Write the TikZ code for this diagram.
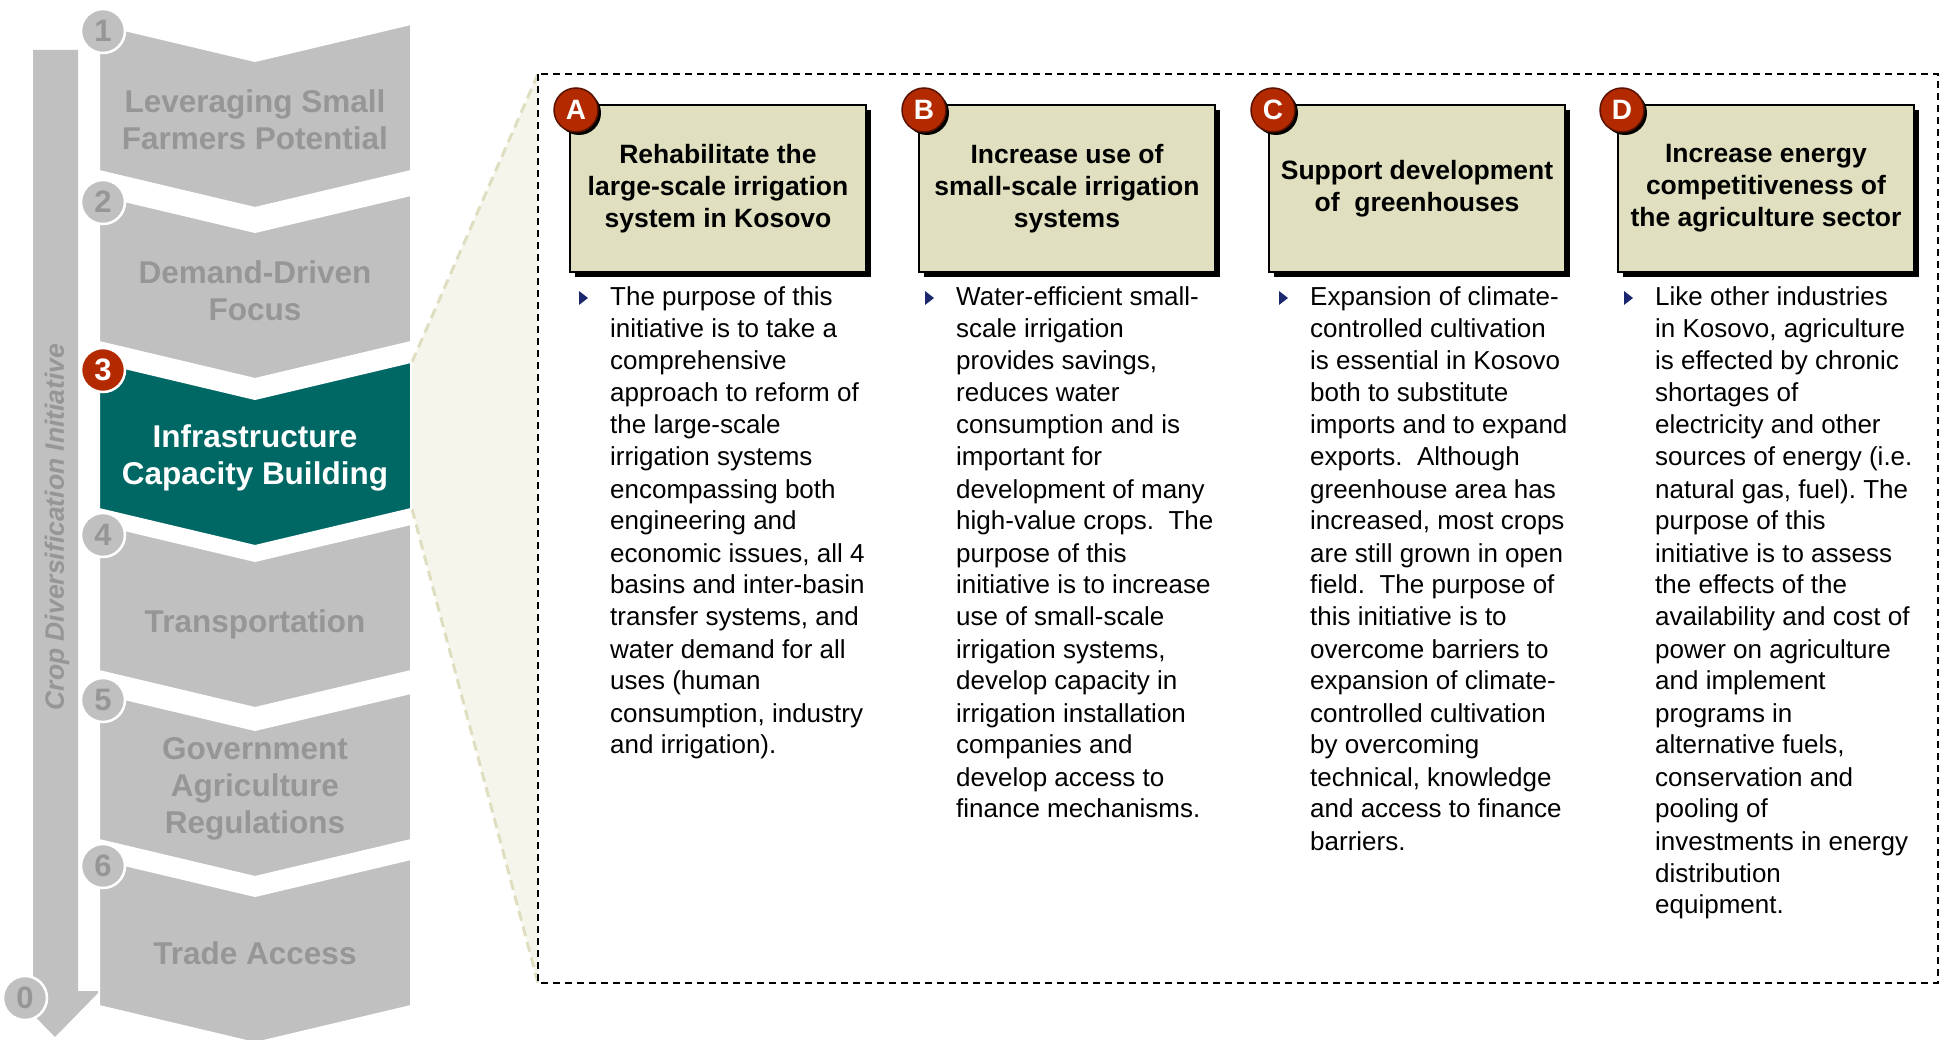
\documentclass[tikz,border=0pt]{standalone}
\usepackage{fontspec}
\setmainfont{Liberation Sans}
\usetikzlibrary{shadows}
\definecolor{chevgray}{RGB}{192,192,192}
\definecolor{chevtext}{RGB}{150,150,150}
\definecolor{tealc}{RGB}{0,104,100}
\definecolor{badgered}{RGB}{180,42,0}
\definecolor{badgeedge}{RGB}{90,18,0}
\definecolor{khaki}{RGB}{224,224,192}
\definecolor{funnelfill}{RGB}{245,245,235}
\definecolor{funneledge}{RGB}{224,222,192}
\definecolor{bulletnavy}{RGB}{28,40,110}
\newcommand{\mychev}[6]{%
  \fill[#3, draw=white, line width=2pt] (99,#2) -- (255,#2+37) -- (411,#2) -- (411,#2+147) -- (255,#2+184) -- (99,#2+147) -- cycle;
  \node[chevlabel, text=#4] (#1) at (255,#2+#6) {#5};
}
\newcommand{\mybullet}[1]{%
  \fill[bulletnavy] (#1-4,291) -- (#1+5,298) -- (#1-4,305) -- cycle;
}
\begin{document}
\frenchspacing
\begin{tikzpicture}[x=1pt,y=-1pt,
  chevlabel/.style={align=center, inner sep=0, font=\fontsize{31.5}{37}\selectfont\bfseries},
  graybadge/.style={circle, fill=chevgray, draw=white, line width=2.5pt, minimum size=44pt, inner sep=0, text=chevtext, font=\fontsize{31}{32}\selectfont\bfseries},
  redbadge/.style={graybadge, fill=badgered, text=white},
  letterbadge/.style={circle, fill=badgered, draw=badgeedge, line width=1.5pt, minimum size=44pt, inner sep=0, text=white, font=\fontsize{28}{30}\selectfont\bfseries, drop shadow={shadow xshift=3pt, shadow yshift=-3pt, fill=black, opacity=1}},
  titlebox/.style={rectangle, fill=khaki, draw=black, line width=2pt, minimum width=296pt, minimum height=167pt, align=center, inner sep=0, font=\fontsize{26.5}{32}\selectfont\bfseries, drop shadow={shadow xshift=5pt, shadow yshift=-5pt, fill=black, opacity=1}},
  bodytext/.style={anchor=base west, inner sep=0, font=\fontsize{26}{32}\selectfont}
]
\useasboundingbox (0,0) rectangle (1940,1040);

% funnel
\fill[funnelfill] (412,362) -- (538,74) -- (538,983) -- (412,509) -- cycle;
\draw[funneledge, line width=3pt, dash pattern=on 10pt off 6pt] (412,362) -- (538,74);
\draw[funneledge, line width=3pt, dash pattern=on 10pt off 6pt] (412,509) -- (538,983);

% dashed panel
\draw[black, line width=2.5pt, dash pattern=on 7pt off 5pt] (538,74) rectangle (1938,983);

% left arrow
\fill[chevgray] (33,50) -- (78,50) -- (78,991) -- (100,991) -- (55,1037) -- (10,991) -- (33,991) -- cycle;
\node[rotate=90, text=chevtext, inner sep=0, font=\fontsize{26.5}{30}\selectfont\bfseries\itshape] (axis) at (57,527) {Crop Diversification Initiative};
\node[graybadge] (b0) at (25,998) {0};

% chevrons
\mychev{c1}{24}{chevgray}{chevtext}{Leveraging Small\\Farmers Potential}{96}
\mychev{c2}{195}{chevgray}{chevtext}{Demand-Driven\\Focus}{96}
\mychev{c3}{362}{tealc}{white}{Infrastructure\\Capacity Building}{96}
\mychev{c4}{524}{chevgray}{chevtext}{Transportation}{100}
\mychev{c5}{693}{chevgray}{chevtext}{Government\\Agriculture\\Regulations}{96}
\mychev{c6}{859}{chevgray}{chevtext}{Trade Access}{94}
\node[graybadge] (b1) at (103,31) {1};
\node[graybadge] (b2) at (103,202) {2};
\node[redbadge] (b3) at (103,370) {3};
\node[graybadge] (b4) at (103,535) {4};
\node[graybadge] (b5) at (103,700) {5};
\node[graybadge] (b6) at (103,866) {6};

% title boxes
\node[titlebox] (boxA) at (718,188.5) {Rehabilitate the\\large-scale irrigation\\system in Kosovo};
\node[titlebox] (boxB) at (1067,188.5) {Increase use of\\small-scale irrigation\\systems};
\node[titlebox] (boxC) at (1417,188.5) {Support development\\of\ \ greenhouses};
\node[titlebox] (boxD) at (1766,188.5) {Increase energy\\competitiveness of\\the agriculture sector};
\node[letterbadge] (bA) at (576,110) {A};
\node[letterbadge] (bB) at (924,110) {B};
\node[letterbadge] (bC) at (1273,110) {C};
\node[letterbadge] (bD) at (1622,110) {D};

% bullets and body text
\mybullet{583}
\mybullet{929}
\mybullet{1283}
\mybullet{1628}
\node[bodytext] (tA) at (610,306) {\begin{tabular}[t]{@{}l@{}}
The purpose of this\\
initiative is to take a\\
comprehensive\\
approach to reform of\\
the large-scale\\
irrigation systems\\
encompassing both\\
engineering and\\
economic issues, all 4\\
basins and inter-basin\\
transfer systems, and\\
water demand for all\\
uses (human\\
consumption, industry\\
and irrigation).
\end{tabular}};
\node[bodytext] (tB) at (956,306) {\begin{tabular}[t]{@{}l@{}}
Water-efficient small-\\
scale irrigation\\
provides savings,\\
reduces water\\
consumption and is\\
important for\\
development of many\\
high-value crops.\ \ The\\
purpose of this\\
initiative is to increase\\
use of small-scale\\
irrigation systems,\\
develop capacity in\\
irrigation installation\\
companies and\\
develop access to\\
finance mechanisms.
\end{tabular}};
\node[bodytext] (tC) at (1310,306) {\begin{tabular}[t]{@{}l@{}}
Expansion of climate-\\
controlled cultivation\\
is essential in Kosovo\\
both to substitute\\
imports and to expand\\
exports.\ \ Although\\
greenhouse area has\\
increased, most crops\\
are still grown in open\\
field.\ \ The purpose of\\
this initiative is to\\
overcome barriers to\\
expansion of climate-\\
controlled cultivation\\
by overcoming\\
technical, knowledge\\
and access to finance\\
barriers.
\end{tabular}};
\node[bodytext] (tD) at (1655,306) {\begin{tabular}[t]{@{}l@{}}
Like other industries\\
in Kosovo, agriculture\\
is effected by chronic\\
shortages of\\
electricity and other\\
sources of energy (i.e.\\
natural gas, fuel). The\\
purpose of this\\
initiative is to assess\\
the effects of the\\
availability and cost of\\
power on agriculture\\
and implement\\
programs in\\
alternative fuels,\\
conservation and\\
pooling of\\
investments in energy\\
distribution\\
equipment.
\end{tabular}};
\end{tikzpicture}
\end{document}
